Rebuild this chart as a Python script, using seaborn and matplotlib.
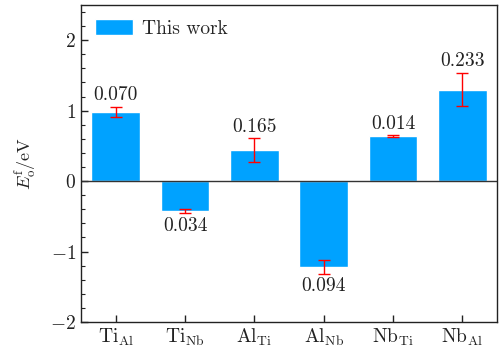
import numpy as np
import pandas as pd
import matplotlib
matplotlib.use("Agg")
import matplotlib.pyplot as plt
import seaborn as sns

categories = [r"$\mathrm{Ti}_{\mathrm{Al}}$", r"$\mathrm{Ti}_{\mathrm{Nb}}$", r"$\mathrm{Al}_{\mathrm{Ti}}$",
              r"$\mathrm{Al}_{\mathrm{Nb}}$", r"$\mathrm{Nb}_{\mathrm{Ti}}$", r"$\mathrm{Nb}_{\mathrm{Al}}$"]
values = [0.985, -0.425, 0.44, -1.22, 0.635, 1.30]
errors = [0.070, 0.034, 0.165, 0.094, 0.014, 0.233]
labels = ["0.070", "0.034", "0.165", "0.094", "0.014", "0.233"]

sns.set_theme(style="white")
plt.rcParams["font.family"] = ["cmr10"]
plt.rcParams["mathtext.fontset"] = "cm"
plt.rcParams["axes.formatter.use_mathtext"] = True
plt.rcParams["axes.unicode_minus"] = True

df = pd.DataFrame({"cat": categories, "val": values, "err": errors})

fig = plt.figure(figsize=(5.0, 3.54), dpi=100)
ax = fig.add_axes([0.162, 0.0904, 0.832, 0.8955])

bar_color = "#00A2FF"
sns.barplot(data=df, x="cat", y="val", color=bar_color, saturation=1, width=0.7,
            ax=ax, label="This work", errorbar=None)
ax.errorbar(np.arange(len(values)), values, yerr=errors, fmt="none", ecolor="red",
            elinewidth=1.0, capsize=4, capthick=1.0, zorder=5)

fs = 14
for i, (v, e, t) in enumerate(zip(values, errors, labels)):
    if v >= 0:
        ax.text(i, v + e + 0.04, t, ha="center", va="bottom", fontsize=fs, color="#222222")
    else:
        ax.text(i, v - e - 0.05, t, ha="center", va="top", fontsize=fs, color="#222222")

ax.axhline(0, color="#333333", lw=1.0, zorder=1)
ax.set_xlim(-0.5, 5.5)
ax.set_ylim(-2, 2.5)
ax.set_yticks([-2, -1, 0, 1, 2])
ax.set_yticklabels([r"$-2$", r"$-1$", r"$0$", r"$1$", r"$2$"])
ax.set_yticks(np.arange(-2, 2.5, 0.2), minor=True)
ax.tick_params(axis="both", which="both", direction="in", labelsize=fs, colors="#222222",
               left=True, bottom=True, top=False, right=False)
ax.tick_params(axis="y", which="major", length=5, width=1)
ax.tick_params(axis="y", which="minor", length=3, width=0.8)
ax.tick_params(axis="x", which="major", length=5, width=1)
ax.set_xlabel("")
ax.set_ylabel(r"$E_{\mathrm{o}}^{\mathrm{f}}/\mathrm{eV}$", fontsize=13, color="#222222", labelpad=8)
for s in ax.spines.values():
    s.set_color("#222222")
    s.set_linewidth(1.0)

leg = ax.legend(loc="upper left", frameon=False, fontsize=14, handlelength=1.95, handleheight=0.95,
                borderaxespad=0.3, handletextpad=0.5)

fig.savefig("out.png", dpi=100)
